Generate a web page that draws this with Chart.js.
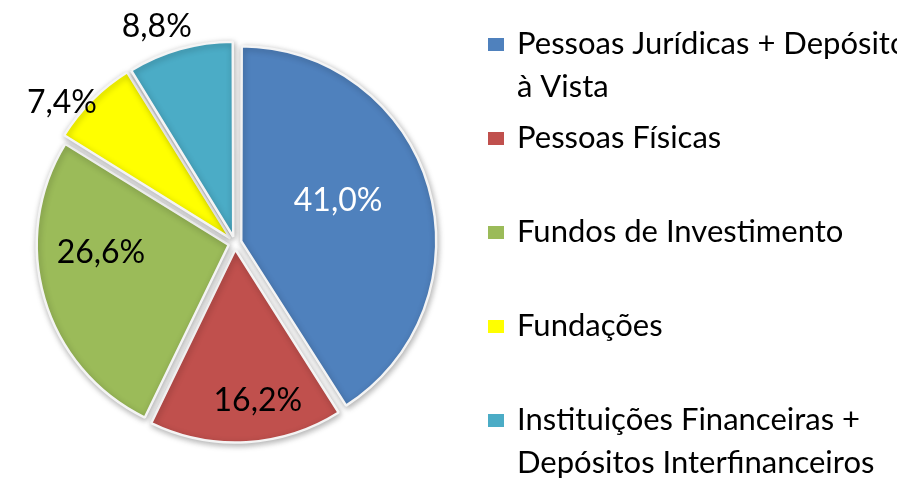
<!DOCTYPE html>
<html>
<head>
<meta charset="utf-8">
<script src="https://cdn.jsdelivr.net/npm/chart.js@4"></script>
<style>
    html, body { margin: 0; padding: 0; background: #ffffff; }
    #wrap { width: 897px; height: 479px; position: relative; }
</style>
</head>
<body>
<div id="wrap"><canvas id="pieChart"></canvas></div>
<script>
const categories = [
    ['Pessoas Jurídicas + Depósitos', 'à Vista'],
    ['Pessoas Físicas'],
    ['Fundos de Investimento'],
    ['Fundações'],
    ['Instituições Financeiras +', 'Depósitos Interfinanceiros']
];
const shares = [41.0, 16.2, 26.6, 7.4, 8.8];
const shareLabels = ['41,0%', '16,2%', '26,6%', '7,4%', '8,8%'];

const colors = ['#4f81bd', '#c0504d', '#9bbb59', '#ffff00', '#4bacc6'];
const labelColors = ['#ffffff', '#000000', '#000000', '#000000', '#000000'];
// where each percentage sits: radius factor and small angle shift (degrees)
const labelPlace = [
    {r: 0.58, da: -6},
    {r: 0.83, da: -5},
    {r: 0.70, da: 12},
    {r: 1.16, da: -6},
    {r: 1.20, da: -4}
];
const FONT = 'Lato, "Open Sans", sans-serif';

const shadowPlugin = {
    id: 'pieShadow',
    beforeDatasetsDraw(chart) {
        const ctx = chart.ctx;
        ctx.save();
        ctx.shadowColor = 'rgba(0,0,0,0.3)';
        ctx.shadowBlur = 6;
        ctx.shadowOffsetX = 1;
        ctx.shadowOffsetY = 2;
    },
    afterDatasetsDraw(chart) {
        chart.ctx.restore();
    }
};

const pieLabels = {
    id: 'pieLabels',
    afterDatasetsDraw(chart) {
        const ctx = chart.ctx;
        const arcs = chart.getDatasetMeta(0).data;
        ctx.save();
        ctx.font = '32px ' + FONT;
        ctx.textAlign = 'center';
        ctx.textBaseline = 'middle';
        arcs.forEach(function(arc, i) {
            const p = arc.getProps(['x', 'y', 'startAngle', 'endAngle', 'outerRadius'], true);
            const mid = (p.startAngle + p.endAngle) / 2 + labelPlace[i].da * Math.PI / 180;
            const r = p.outerRadius * labelPlace[i].r;
            ctx.fillStyle = labelColors[i];
            ctx.fillText(shareLabels[i], p.x + Math.cos(mid) * r, p.y + Math.sin(mid) * r);
        });
        ctx.restore();
    }
};

const sideLegend = {
    id: 'sideLegend',
    afterDraw(chart) {
        const ctx = chart.ctx;
        const ds = chart.data.datasets[0];
        const x0 = 488, textX = 517, y0 = 44, step = 94, lineH = 43;
        ctx.save();
        ctx.font = '31px ' + FONT;
        ctx.textAlign = 'left';
        ctx.textBaseline = 'middle';
        chart.data.labels.forEach(function(lines, i) {
            const y = y0 + i * step;
            ctx.fillStyle = ds.backgroundColor[i];
            ctx.fillRect(x0, y - 6, 16, 13);
            ctx.fillStyle = '#000000';
            lines.forEach(function(line, k) {
                ctx.fillText(line, textX, y + k * lineH);
            });
        });
        ctx.restore();
    }
};

const ctx = document.getElementById('pieChart');
const chart = new Chart(ctx, {
    type: 'pie',
    data: {
        labels: categories,
        datasets: [{
            data: shares,
            backgroundColor: colors,
            borderColor: '#f4f4f4',
            borderWidth: 2.5,
            offset: 26
        }]
    },
    options: {
        responsive: true,
        maintainAspectRatio: false,
        animation: false,
        radius: 192,
        layout: {
            padding: {left: 0, right: 427, top: 7, bottom: 0}
        },
        plugins: {
            legend: {display: false},
            tooltip: {enabled: false}
        }
    },
    plugins: [shadowPlugin, pieLabels, sideLegend]
});
</script>
</body>
</html>
